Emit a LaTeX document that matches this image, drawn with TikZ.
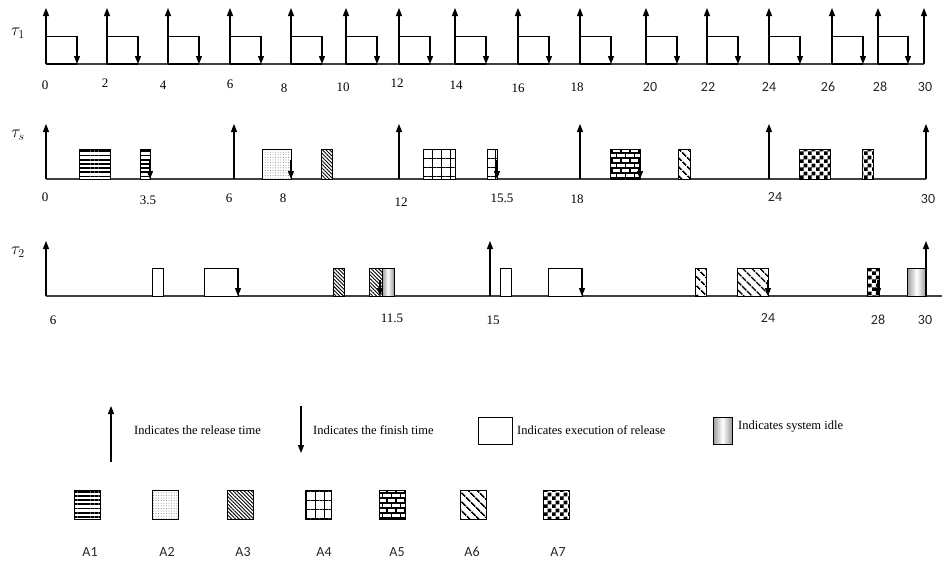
\documentclass[tikz,border=0pt]{standalone}
\usepackage{fontspec}
\setmainfont{Liberation Serif}
\newfontfamily\numsans{Carlito}
\usetikzlibrary{arrows.meta, patterns, patterns.meta}
% larger bricks and checkerboard than the library ones
\pgfdeclarepatternformonly{bigbricks}{\pgfqpoint{-1pt}{-1pt}}{\pgfqpoint{10pt}{11pt}}{\pgfqpoint{9pt}{10pt}}{
  \pgfsetlinewidth{1.1pt}
  \pgfpathmoveto{\pgfqpoint{0pt}{0pt}}\pgfpathlineto{\pgfqpoint{9pt}{0pt}}
  \pgfpathmoveto{\pgfqpoint{0pt}{5pt}}\pgfpathlineto{\pgfqpoint{9pt}{5pt}}
  \pgfpathmoveto{\pgfqpoint{0pt}{0pt}}\pgfpathlineto{\pgfqpoint{0pt}{5pt}}
  \pgfpathmoveto{\pgfqpoint{4.5pt}{5pt}}\pgfpathlineto{\pgfqpoint{4.5pt}{10pt}}
  \pgfusepath{stroke}}
\pgfdeclarepatternformonly{bigchecker}{\pgfpointorigin}{\pgfqpoint{8pt}{8pt}}{\pgfqpoint{8pt}{8pt}}{
  \pgfpathrectangle{\pgfpointorigin}{\pgfqpoint{4pt}{4pt}}
  \pgfpathrectangle{\pgfqpoint{4pt}{4pt}}{\pgfqpoint{4pt}{4pt}}
  \pgfusepath{fill}}
% grey at the edges, white in the middle
\pgfdeclarehorizontalshading{idleshade}{100bp}{color(0bp)=(gray!80); color(25bp)=(gray!80);
  color(50bp)=(white); color(75bp)=(gray!80); color(100bp)=(gray!80)}
\tikzset{
  baseln/.style   = {line width=1.1pt, black!75},
  relarrow/.style = {-{Triangle[length=8pt, width=6pt]}, line width=1.2pt},
  finarrow/.style = {-{Triangle[length=8pt, width=6pt]}, line width=1.2pt},
  taskbox/.style  = {draw, line width=1pt, fill=white},
  idlebox/.style  = {draw, line width=1pt, shading=idleshade},
  patA1/.style    = {pattern={Lines[angle=0, distance=4.2pt, line width=1.8pt]}},
  patA2/.style    = {pattern={Dots[distance=2.6pt, radius=0.5pt]}, pattern color=gray},
  patA3/.style    = {pattern={Lines[angle=-45, distance=2.6pt, line width=0.9pt]}},
  patA4/.style    = {pattern={Hatch[angle=0, distance=9pt, line width=0.9pt]}},
  patA5/.style    = {pattern=bigbricks},
  patA6/.style    = {pattern={Lines[angle=-45, distance=6.5pt, line width=1.8pt]}},
  patA7/.style    = {pattern=bigchecker},
  numlbl/.style   = {font=\fontsize{13}{15}\selectfont, inner sep=0pt},
  snumlbl/.style  = {font=\numsans\fontsize{14}{16}\selectfont, text=black!85, inner sep=0pt},
  tasklbl/.style  = {font=\fontsize{18}{20}\selectfont, inner sep=0pt},
  keylbl/.style   = {font=\fontsize{12.5}{14}\selectfont, anchor=west, inner sep=0pt},
}
\begin{document}
\begin{tikzpicture}[x=1pt, y=-1pt]
  \useasboundingbox (0,0) rectangle (945,563);

  % ---- tau_1 : period 2, one unit each ----
  \node[tasklbl] (tau1) at (18,33) {$\tau_1$};
  \draw[baseln] (46,64) -- (924,64);
  \foreach \xx/\ww in {46/31,107/31,168/31,230/31,291/31,346/31,399/31,455/31,
                       518/31,580/31,646/31,707/31,769/31,832/31,878/30} {
    \draw[line width=1pt] (\xx,36) -- (\xx+\ww,36);
    \draw[line width=1.6pt] (\xx,64) -- (\xx+\ww,64);
    \draw[relarrow] (\xx,64) -- (\xx,8);
    \draw[finarrow] (\xx+\ww,36) -- (\xx+\ww,64);
  }
  \draw[relarrow] (924,64) -- (924,8);
  \foreach \xx/\yy/\lab [count=\i] in {45/85/0,105/83/2,163/85/4,230/84/6,284/88/8,
      343/87/10,397/83/12,456/85/14,518/88/16,577/87/18} {
    \node[numlbl] (t1l\i) at (\xx,\yy) {\lab};
  }
  \foreach \xx/\lab [count=\i] in {650/20,708/22,769/24,828/26,880/28,925/30} {
    \node[snumlbl] (t1s\i) at (\xx,87) {\lab};
  }

  % ---- tau_s : server, period 6 ----
  \node[tasklbl] (taus) at (18,135) {$\tau_s$};
  \draw[baseln] (46,179) -- (926,179);
  \foreach \xa/\xb/\pat in {79/110/patA1,140/150/patA1,262/291/patA2,321/332/patA3,
      423/455/patA4,487/497/patA4,610/640/patA5,678/690/patA6,799/830/patA7,862/873/patA7} {
    \draw[taskbox] (\xa,149) rectangle (\xb,179);
    \draw[line width=1pt, \pat] (\xa,149) rectangle (\xb,179);
  }
  \foreach \xx in {46,234,399,580,769,926}
    \draw[relarrow] (\xx,179) -- (\xx,124);
  \foreach \xx in {150,291,497,640}
    \draw[finarrow] (\xx,160) -- (\xx,179);
  \foreach \xx/\yy/\lab [count=\i] in {45/197/0,148/200/3.5,229/198/6,283/198/8,
      401/202/12,502/198/15.5,577/199/18} {
    \node[numlbl] (tsl\i) at (\xx,\yy) {\lab};
  }
  \node[snumlbl] (tss1) at (775,197) {24};
  \node[snumlbl] (tss2) at (928,199) {30};

  % ---- tau_2 : period 9 ----
  \node[tasklbl] (tau2) at (18,252) {$\tau_2$};
  \draw[baseln] (46,296) -- (942,296);
  \foreach \xa/\xb in {152/163,204/238,500/511,548/582}
    \draw[taskbox] (\xa,268) rectangle (\xb,296);
  \foreach \xa/\xb/\pat in {333/344/patA3,369/382/patA3,695/706/patA6,737/768/patA6,867/879/patA7} {
    \draw[taskbox] (\xa,268) rectangle (\xb,296);
    \draw[line width=1pt, \pat] (\xa,268) rectangle (\xb,296);
  }
  \draw[idlebox] (382,268) rectangle (394,296);
  \draw[idlebox] (907,268) rectangle (926,296);
  \foreach \xx in {46,490,926}
    \draw[relarrow] (\xx,296) -- (\xx,241);
  \foreach \xx/\yy in {238/268,380/280,582/268,768/280,878/280}
    \draw[finarrow] (\xx,\yy) -- (\xx,296);
  \node[numlbl] (t2l1) at (53,320) {6};
  \node[numlbl] (t2l2) at (392,318) {11.5};
  \node[numlbl] (t2l3) at (493,320) {15};
  \node[snumlbl] (t2s1) at (768,318) {24};
  \node[snumlbl] (t2s2) at (878,320) {28};
  \node[snumlbl] (t2s3) at (925,320) {30};

  % ---- key ----
  \draw[relarrow] (111,462) -- (111,406);
  \node[keylbl] (krel) at (134,430) {Indicates the release time};
  \draw[finarrow] (301,406) -- (301,453);
  \node[keylbl] (kfin) at (313,430) {Indicates the finish time};
  \draw[taskbox] (478,417) rectangle (512,444);
  \node[keylbl] (kexe) at (517,430) {Indicates execution of release};
  \draw[idlebox] (713,417) rectangle (732,444);
  \node[keylbl] (kidl) at (738,427) {Indicates system idle};

  \foreach \xa/\xl/\n in {74/90/1,152/167/2,227/243/3,305/324/4,379/397/5,460/472/6,543/558/7} {
    \draw[line width=1pt, patA\n] (\xa,490) rectangle (\xa+26,519);
    \node[snumlbl] (key\n) at (\xl,552) {A\n};
  }
\end{tikzpicture}
\end{document}
